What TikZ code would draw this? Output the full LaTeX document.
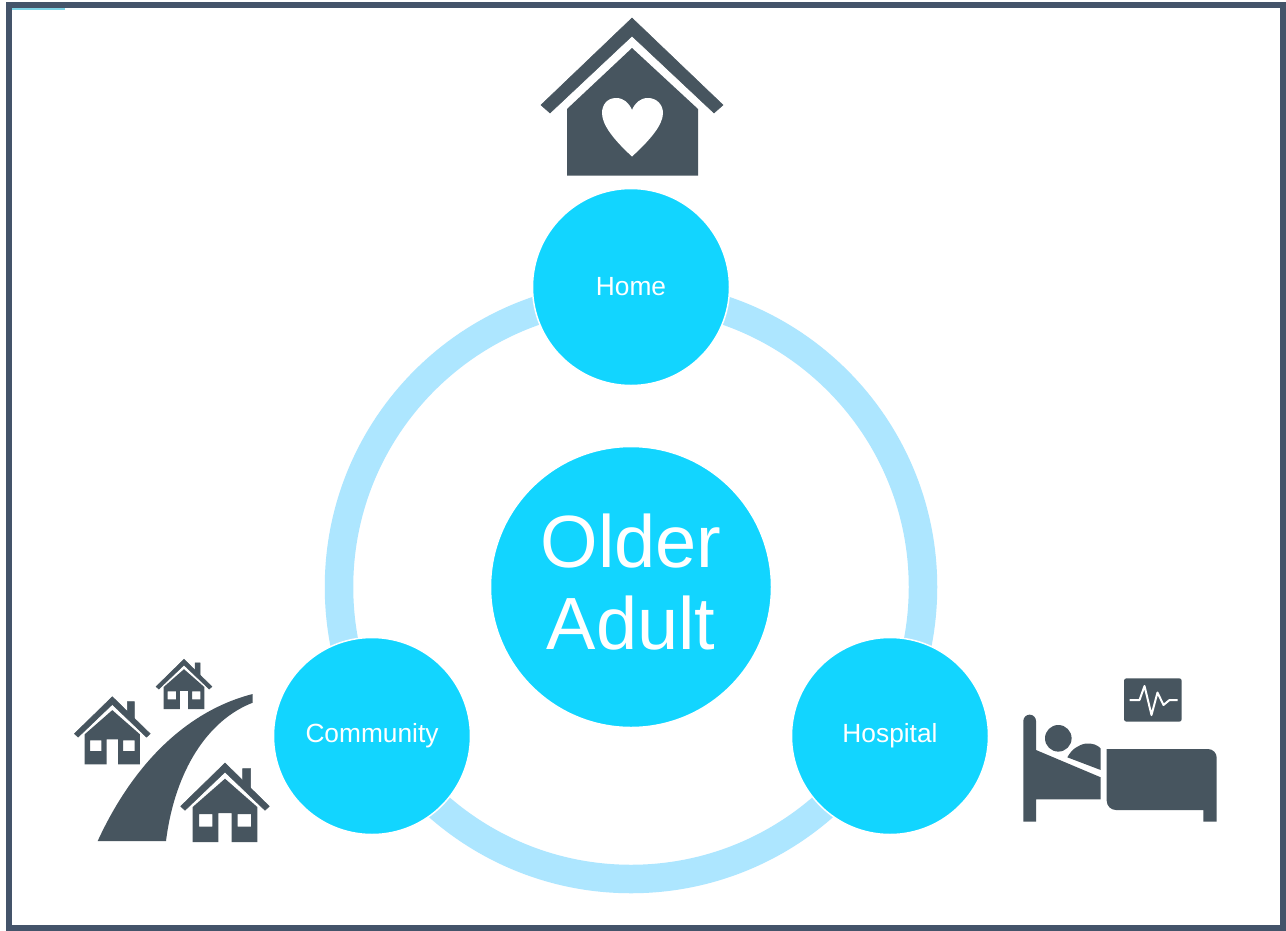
\documentclass[tikz,border=0pt]{standalone}
\usepackage{fontspec}
\setmainfont{Liberation Sans}
\definecolor{frame}{HTML}{44546A}
\definecolor{icon}{HTML}{47555F}
\definecolor{disc}{HTML}{12D5FF}
\definecolor{ringc}{HTML}{ADE6FF}
\definecolor{tick}{HTML}{7FD4E6}
\tikzset{
  disc/.style={circle,fill=disc,draw=white,line width=1.5pt,inner sep=0pt,text=white,align=center},
  small disc/.style={disc,minimum size=197pt,font=\fontsize{26.3}{30}\selectfont},
  icon fill/.style={fill=icon,draw=icon,line width=0.5pt,line join=miter},
}
\newcommand{\cottage}[3]{%
  \begin{scope}[shift={(#1,#2)},scale=#3]
    \path[icon fill] (0,0)--(44.3,43.3)--(40,47.3)--(0,9)--(-40,47.3)--(-44.3,43.3)--cycle;
    \path[icon fill] (17.7,20)--(17.7,5.7)--(25.7,5.7)--(25.7,28)--cycle;
    \path[fill=icon,even odd rule] (0,15.7)--(32.3,44)--(32.3,79)--(6.7,79)--(6.7,50)--(-6.7,50)--(-6.7,79)--(-32.3,79)--(-32.3,44)--cycle
      (-26,51) rectangle (-12.7,63.7) (12.7,51) rectangle (26,63.7);
  \end{scope}}
\begin{document}
\begin{tikzpicture}[x=1pt,y=-1pt]
\useasboundingbox (0,0) rectangle (1286,930);
\fill[white] (0,0) rectangle (1286,930);
% frame
\draw[frame,line width=6pt] (9,5) rectangle (1283,928);
\draw[tick,line width=1.5pt] (12,9) -- (65,9);
% ring
\draw[ringc,line width=28.5pt] (631,587) circle[radius=292];
% discs
\node[disc,minimum size=281pt] (adult) at (631,587) {};
\node[text=white,align=center,font=\fontsize{74}{82}\selectfont,inner sep=0pt] (adultlabel) at (631,582) {Older\\Adult};
\node[small disc] (home) at (631,287) {\raisebox{1.5pt}{Home}};
\node[small disc] (community) at (372,736) {\raisebox{0.5pt}{Community}};
\node[small disc] (hospital) at (890,736) {Hospital};
% home icon
\path[icon fill] (632,18)--(723,105)--(714,113)--(632,36)--(550,113)--(541,105)--cycle;
\path[fill=icon] (632,48)--(698,109)--(698,175.5)--(567,175.5)--(567,109)--cycle;
\fill[white] (632,110) .. controls (629,103) and (624,98) .. (616,98)
  .. controls (607,98) and (602,105) .. (602,113)
  .. controls (602,125) and (614,140) .. (632,156.5)
  .. controls (650,140) and (663,125) .. (663,113)
  .. controls (663,105) and (657,98) .. (648,98)
  .. controls (640,98) and (635,103) .. (632,110) -- cycle;
% community icon
\cottage{225}{763}{1}
\cottage{112.3}{696.7}{0.855}
\cottage{184}{659.3}{0.63}
\fill[icon] (252.7,694) -- (252.7,702.7)
  .. controls (208,720) and (175,770) .. (166,841)
  -- (97.7,841)
  .. controls (135,760) and (190,710) .. (252.7,694) -- cycle;
% hospital icon
\fill[icon,rounded corners=2.5pt] (1124,678.3) rectangle (1181.7,721.7);
\draw[white,line width=2pt,line join=round] (1129.5,700)--(1139.5,700)--(1144.5,686)--(1151.5,715)--(1157.5,692.5)--(1163.5,705)--(1169.5,700)--(1177.5,700);
\fill[icon] (1023.3,821.7)--(1023.3,721) arc[start angle=180,end angle=360,radius=6.35] --(1036,750)--(1100.7,777.3)--(1100.7,799.3)--(1036,799.3)--(1036,821.7)--cycle;
\fill[icon] (1058.3,738.3) circle[radius=13.3];
\fill[icon] (1067.3,757.3) .. controls (1072,749) and (1078,745) .. (1086,743.5)
  .. controls (1092,743) and (1098,745) .. (1100.7,748.5) -- (1100.7,770) -- cycle;
\fill[icon] (1106.7,749)--(1208,749) arc[start angle=-90,end angle=0,radius=8.7] --(1216.7,821.7)--(1203.3,821.7)--(1203.3,810)--(1116,810) arc[start angle=90,end angle=180,radius=9.3] --cycle;
\end{tikzpicture}
\end{document}
